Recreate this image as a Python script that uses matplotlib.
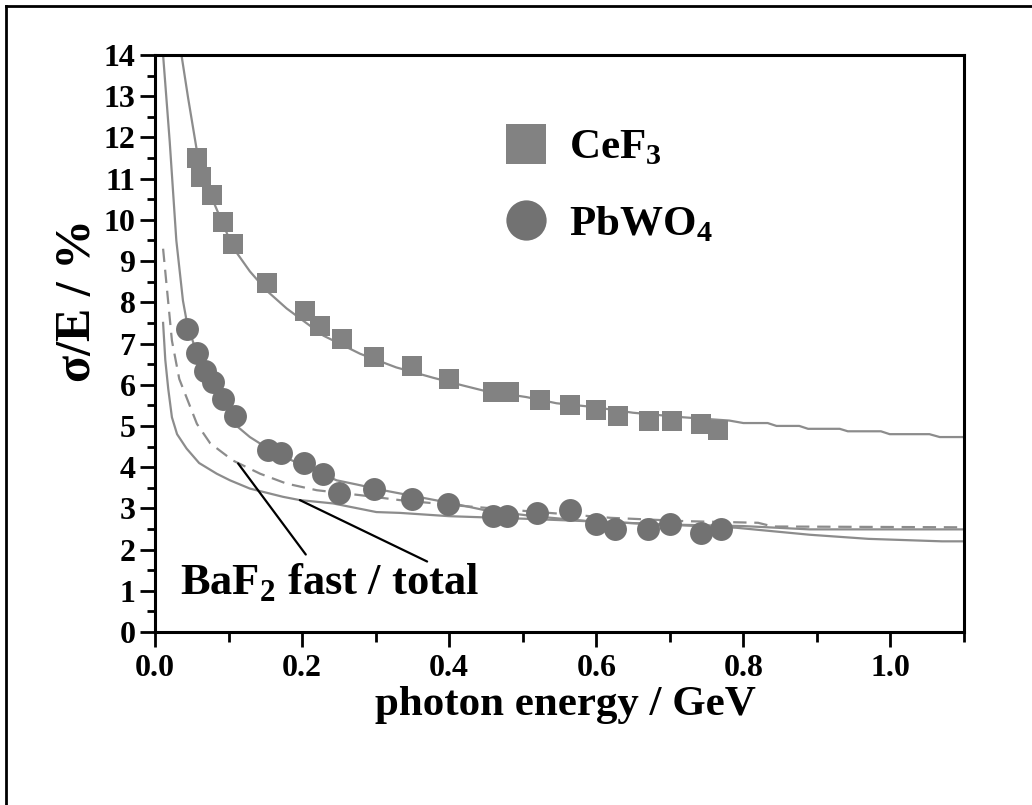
import numpy as np
import matplotlib
matplotlib.use("Agg")
import matplotlib.pyplot as plt
from matplotlib.lines import Line2D
from matplotlib.ticker import MultipleLocator

plt.rcParams['font.family'] = ['Liberation Serif', 'DejaVu Serif']
plt.rcParams['font.weight'] = 'bold'
plt.rcParams['mathtext.fontset'] = 'custom'
plt.rcParams['mathtext.rm'] = 'Liberation Serif:bold'
plt.rcParams['mathtext.bf'] = 'Liberation Serif:bold'

# measured points (GeV, %)
cef3_e = [0.057, 0.063, 0.078, 0.093, 0.106, 0.152, 0.204, 0.225, 0.254, 0.298, 0.349,
          0.400, 0.459, 0.482, 0.524, 0.564, 0.600, 0.630, 0.672, 0.703, 0.743, 0.765]
cef3_res = [11.49, 11.05, 10.60, 9.96, 9.42, 8.47, 7.80, 7.43, 7.11, 6.67, 6.46,
            6.14, 5.82, 5.82, 5.62, 5.50, 5.39, 5.23, 5.11, 5.11, 5.04, 4.91]

pbwo4_e = [0.044, 0.057, 0.068, 0.079, 0.093, 0.109, 0.153, 0.172, 0.203, 0.229, 0.250, 0.298,
           0.350, 0.398, 0.459, 0.479, 0.520, 0.564, 0.599, 0.626, 0.670, 0.700, 0.743, 0.770]
pbwo4_res = [7.35, 6.76, 6.33, 6.06, 5.66, 5.25, 4.41, 4.34, 4.10, 3.83, 3.37, 3.48,
             3.22, 3.10, 2.81, 2.81, 2.89, 2.97, 2.61, 2.50, 2.49, 2.62, 2.40, 2.50]

# fitted / simulated curves
cef3_fit_e = [0.036, 0.045, 0.057, 0.079, 0.106, 0.129, 0.152, 0.179, 0.204, 0.229, 0.279, 0.328,
              0.378, 0.419, 0.446, 0.505, 0.546, 0.596, 0.65, 0.718, 0.781, 0.80, 0.833, 0.845,
              0.876, 0.888, 0.931, 0.942, 0.987, 0.999, 1.053, 1.067, 1.1]
cef3_fit_res = [14.0, 12.96, 11.67, 10.46, 9.33, 8.75, 8.28, 7.85, 7.52, 7.19, 6.75, 6.42,
                6.17, 5.98, 5.86, 5.70, 5.55, 5.46, 5.32, 5.21, 5.13, 5.07, 5.07, 5.00,
                5.00, 4.93, 4.93, 4.87, 4.87, 4.80, 4.80, 4.73, 4.73]

pbwo4_fit_e = [0.011, 0.020, 0.029, 0.038, 0.044, 0.06, 0.08, 0.113, 0.129, 0.16, 0.2, 0.247,
               0.274, 0.31, 0.369, 0.41, 0.45, 0.52, 0.59, 0.69, 0.80, 0.89, 1.1]
pbwo4_fit_res = [14.0, 11.9, 9.5, 8.04, 7.45, 6.6, 6.0, 4.97, 4.73, 4.38, 4.05, 3.68,
                 3.58, 3.44, 3.24, 3.10, 2.95, 2.80, 2.69, 2.61, 2.57, 2.49, 2.49]

baf2_fast_e = [0.011, 0.023, 0.033, 0.057, 0.075, 0.106, 0.143, 0.179, 0.22, 0.279, 0.333,
               0.417, 0.62, 0.72, 0.82, 0.84, 1.1]
baf2_fast_res = [9.3, 7.07, 6.14, 5.05, 4.58, 4.16, 3.84, 3.60, 3.44, 3.32, 3.20,
                 3.06, 2.77, 2.69, 2.65, 2.56, 2.54]

baf2_total_e = [0.011, 0.014, 0.018, 0.023, 0.030, 0.043, 0.060, 0.084, 0.102, 0.129, 0.174,
                0.197, 0.242, 0.301, 0.333, 0.40, 0.50, 0.60, 0.70, 0.79, 0.89, 0.97, 1.07, 1.1]
baf2_total_res = [7.5, 6.6, 5.9, 5.21, 4.8, 4.45, 4.1, 3.84, 3.68, 3.48, 3.28,
                  3.20, 3.12, 2.91, 2.89, 2.81, 2.75, 2.68, 2.60, 2.53, 2.36, 2.26, 2.20, 2.20]

# leader lines for the BaF2 label: (curve point, label point)
fast_pointer = [(0.113, 4.09), (0.205, 1.88)]
total_pointer = [(0.197, 3.20), (0.37, 1.71)]

line_col = '#8c8c8c'
sq_col = '#828282'
circ_col = '#727272'

fig = plt.figure(figsize=(10.32, 8.05), dpi=100)
ax = fig.add_axes([155/1032, 1 - 632/805, (964-155)/1032, (632-55)/805])

ax.plot(cef3_fit_e, cef3_fit_res, color=line_col, lw=1.6, zorder=2)
ax.plot(pbwo4_fit_e, pbwo4_fit_res, color=line_col, lw=1.6, zorder=2)
ax.plot(baf2_fast_e, baf2_fast_res, color=line_col, lw=1.6, ls=(0, (6, 3.5)), zorder=2)
ax.plot(baf2_total_e, baf2_total_res, color=line_col, lw=1.6, zorder=2)

ax.plot(cef3_e, cef3_res, ls='none', marker='s', ms=13.7, color=sq_col, mew=0, zorder=3)
ax.plot(pbwo4_e, pbwo4_res, ls='none', marker='o', ms=16.5, color=circ_col, mew=0, zorder=3)

for p in (fast_pointer, total_pointer):
    ax.annotate('', xy=p[0], xytext=p[1],
                arrowprops=dict(arrowstyle='-', color='black', lw=1.6, shrinkA=0, shrinkB=0))
ax.text(0.034, 0.90, r'BaF$_2$ fast / total', fontsize=32, fontweight='bold', va='baseline')

handles = [Line2D([], [], ls='none', marker='s', ms=29, color=sq_col, mew=0),
           Line2D([], [], ls='none', marker='o', ms=29, color=circ_col, mew=0)]
ax.legend(handles, [r'CeF$_3$', r'PbWO$_4$'], loc='upper left', bbox_to_anchor=(0.405, 0.91),
          frameon=False, prop={'size': 31, 'weight': 'bold'}, handletextpad=0.5,
          labelspacing=0.86, borderpad=0, handlelength=1.0)

ax.set_xlim(0, 1.1)
ax.set_ylim(0, 14)
ax.xaxis.set_major_locator(MultipleLocator(0.2))
ax.xaxis.set_minor_locator(MultipleLocator(0.1))
ax.yaxis.set_major_locator(MultipleLocator(1))
ax.yaxis.set_minor_locator(MultipleLocator(0.5))
ax.xaxis.set_major_formatter(matplotlib.ticker.FormatStrFormatter('%.1f'))
for s in ax.spines.values():
    s.set_linewidth(2.2)
ax.tick_params(which='major', direction='out', length=11, width=2, labelsize=23, pad=3)
ax.tick_params(which='minor', direction='out', length=5.5, width=2)
ax.tick_params(axis='x', which='major', pad=5)
ax.tick_params(axis='x', which='minor', length=7.5)

fig.text(78/1032, 1 - 300/805, 'σ/E / %', rotation=90, fontsize=36, fontweight='bold',
         ha='center', va='center')
fig.text(565/1032, 1 - 705/805, 'photon energy / GeV', fontsize=31, fontweight='bold',
         ha='center', va='center')

# page frame (left and top edge visible)
fig.add_artist(Line2D([6/1032, 6/1032], [0, 1 - 6/805], transform=fig.transFigure, color='black', lw=2))
fig.add_artist(Line2D([6/1032, 1], [1 - 6/805, 1 - 6/805], transform=fig.transFigure, color='black', lw=2))

fig.savefig('out.png', dpi=100)
